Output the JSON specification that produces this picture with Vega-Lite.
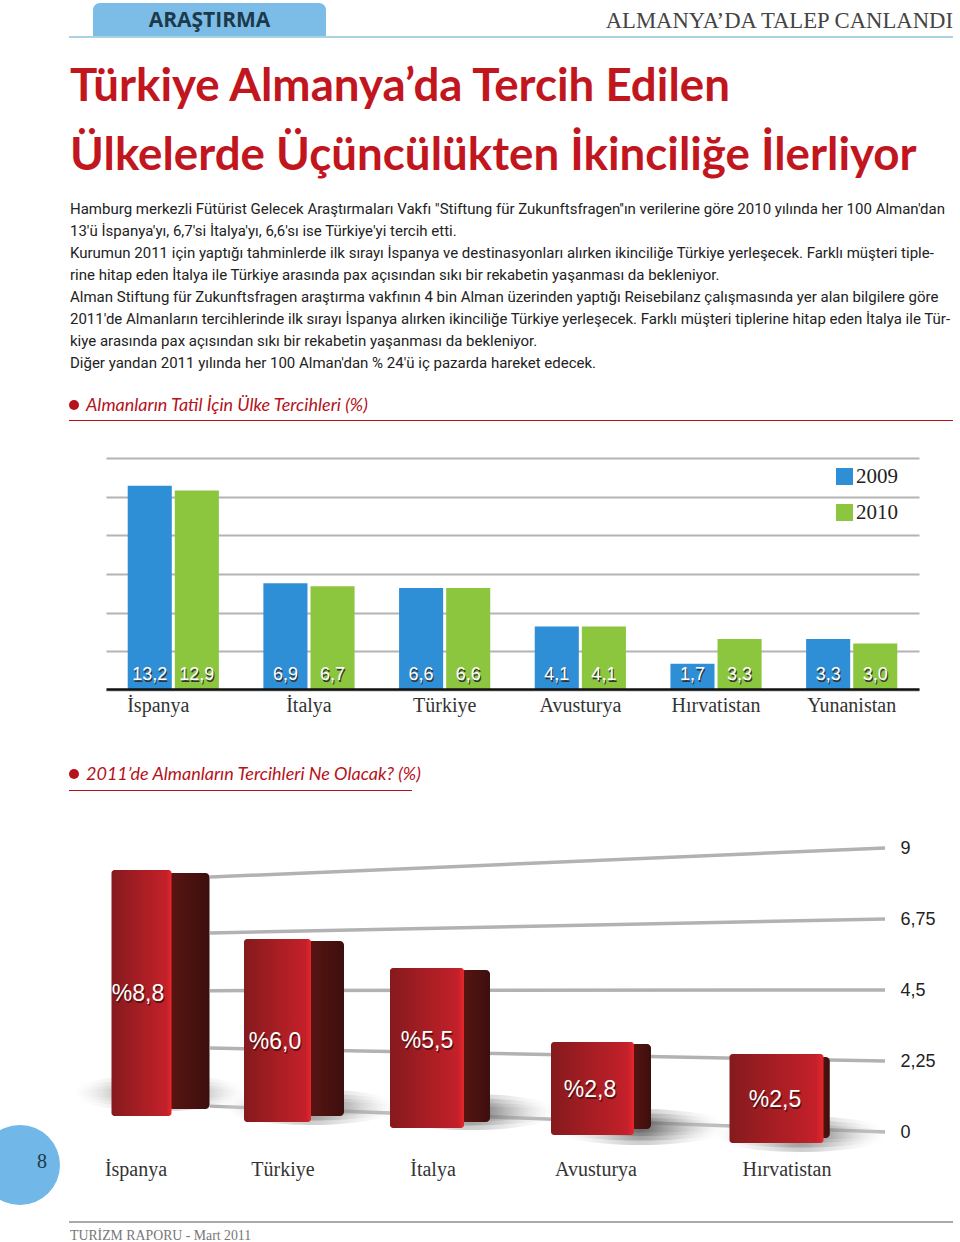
{
"$schema":"https://vega.github.io/schema/vega-lite/v6.json",
"width":960,"height":1242,"padding":0,
"autosize":{"type":"fit","contains":"padding"},
"background":"white",
"config":{"view":{"stroke":null}},
"datasets":{
"visits":[
{"country":"İspanya","year":"2009","value":13.2,"label":"13,2"},
{"country":"İspanya","year":"2010","value":12.9,"label":"12,9"},
{"country":"İtalya","year":"2009","value":6.9,"label":"6,9"},
{"country":"İtalya","year":"2010","value":6.7,"label":"6,7"},
{"country":"Türkiye","year":"2009","value":6.6,"label":"6,6"},
{"country":"Türkiye","year":"2010","value":6.6,"label":"6,6"},
{"country":"Avusturya","year":"2009","value":4.1,"label":"4,1"},
{"country":"Avusturya","year":"2010","value":4.1,"label":"4,1"},
{"country":"Hırvatistan","year":"2009","value":1.7,"label":"1,7"},
{"country":"Hırvatistan","year":"2010","value":3.3,"label":"3,3"},
{"country":"Yunanistan","year":"2009","value":3.3,"label":"3,3"},
{"country":"Yunanistan","year":"2010","value":3.0,"label":"3,0"}],
"forecast":[
{"rank":1,"country":"İspanya","value":8.8,"floor":0.51,"label":"%8,8"},
{"rank":2,"country":"Türkiye","value":6.0,"floor":0.32,"label":"%6,0"},
{"rank":3,"country":"İtalya","value":5.5,"floor":0.13,"label":"%5,5"},
{"rank":4,"country":"Avusturya","value":2.8,"floor":-0.10,"label":"%2,8"},
{"rank":5,"country":"Hırvatistan","value":2.5,"floor":-0.35,"label":"%2,5"}],
"perspectiveGrid":[
{"gridValue":9,"side":"back","reading":8.08},{"gridValue":9,"side":"front","reading":9},
{"gridValue":6.75,"side":"back","reading":6.31},{"gridValue":6.75,"side":"front","reading":6.75},
{"gridValue":4.5,"side":"back","reading":4.48},{"gridValue":4.5,"side":"front","reading":4.5},
{"gridValue":2.25,"side":"back","reading":2.66},{"gridValue":2.25,"side":"front","reading":2.25},
{"gridValue":0,"side":"back","reading":0.82},{"gridValue":0,"side":"front","reading":0}],
"body":[
{"line":1,"text":"Hamburg merkezli Fütürist Gelecek Araştırmaları Vakfı \"Stiftung für Zukunftsfragen''ın verilerine göre 2010 yılında her 100 Alman'dan"},
{"line":2,"text":"13'ü İspanya'yı, 6,7'si İtalya'yı, 6,6'sı ise Türkiye'yi tercih etti."},
{"line":3,"text":"Kurumun 2011 için yaptığı tahminlerde ilk sırayı İspanya ve destinasyonları alırken ikinciliğe Türkiye yerleşecek. Farklı müşteri tiple-"},
{"line":4,"text":"rine hitap eden İtalya ile Türkiye arasında pax açısından sıkı bir rekabetin yaşanması da bekleniyor."},
{"line":5,"text":"Alman Stiftung für Zukunftsfragen araştırma vakfının 4 bin Alman üzerinden yaptığı Reisebilanz çalışmasında yer alan bilgilere göre"},
{"line":6,"text":"2011'de Almanların tercihlerinde ilk sırayı İspanya alırken ikinciliğe Türkiye yerleşecek. Farklı müşteri tiplerine hitap eden İtalya ile Tür-"},
{"line":7,"text":"kiye arasında pax açısından sıkı bir rekabetin yaşanması da bekleniyor."},
{"line":8,"text":"Diğer yandan 2011 yılında her 100 Alman'dan % 24'ü iç pazarda hareket edecek."}],
"headline":[
{"line":1,"text":"Türkiye Almanya’da Tercih Edilen"},
{"line":2,"text":"Ülkelerde Üçüncülükten İkinciliğe İlerliyor"}],
"sections":[
{"order":1,"text":"Almanların Tatil İçin Ülke Tercihleri (%)"},
{"order":2,"text":"2011’de Almanların Tercihleri Ne Olacak? (%)"}]
},
"resolve":{"scale":{"x":"independent","y":"independent","color":"independent","size":"independent"},"axis":{"x":"independent","y":"independent"}},
"layer":[
{"data":{"values":[{"name":"ARAŞTIRMA"}]},
 "encoding":{
  "x":{"field":"name","type":"nominal","axis":null,"scale":{"type":"band","range":[93,326],"padding":0}},
  "y":{"field":"name","type":"nominal","axis":null,"scale":{"type":"band","range":[3,37],"padding":0}}},
 "layer":[
  {"mark":{"type":"bar","color":"#7cbde8","cornerRadiusTopLeft":7,"cornerRadiusTopRight":7}},
  {"mark":{"type":"text","font":"Open Sans","fontWeight":"bold","fontSize":21,"color":"#1d3a4a","dy":1},"encoding":{"text":{"field":"name"}}}
 ]},
{"data":{"values":[{"name":"header"}]},"mark":{"type":"rect","color":"#a9d3e3"},
 "encoding":{"x":{"field":"name","type":"nominal","axis":null,"scale":{"type":"band","range":[69,953],"padding":0}},
  "y":{"field":"name","type":"nominal","axis":null,"scale":{"type":"band","range":[36,38],"padding":0}}}},
{"data":{"values":[{"text":"ALMANYA’DA TALEP CANLANDI"}]},"mark":{"type":"text","font":"Liberation Serif","fontSize":22.7,"align":"right","baseline":"middle","color":"#444444"},
 "encoding":{"text":{"field":"text"},
  "x":{"field":"text","type":"nominal","axis":null,"scale":{"type":"point","range":[953,953],"padding":0}},
  "y":{"field":"text","type":"nominal","axis":null,"scale":{"type":"point","range":[21,21],"padding":0}}}},
{"data":{"name":"headline"},"mark":{"type":"text","font":"Lato","fontWeight":"bold","fontSize":45.7,"align":"left","baseline":"middle","color":"#c2161f"},
 "encoding":{"text":{"field":"text"},
  "x":{"field":"line","type":"quantitative","axis":null,"scale":{"domain":[1,2],"range":[70,70]}},
  "y":{"field":"line","type":"quantitative","axis":null,"scale":{"domain":[1,2],"range":[87,156]}}}},
{"data":{"name":"body"},"mark":{"type":"text","font":"Roboto","fontSize":15,"align":"left","baseline":"middle","color":"#222222"},
 "encoding":{"text":{"field":"text"},
  "x":{"field":"line","type":"quantitative","axis":null,"scale":{"domain":[1,8],"range":[70,70]}},
  "y":{"field":"line","type":"quantitative","axis":null,"scale":{"domain":[1,8],"range":[209,363]}}}},
{"data":{"name":"sections"},"mark":{"type":"text","font":"Lato","fontStyle":"italic","fontSize":18,"align":"left","baseline":"middle","color":"#b5121b"},
 "encoding":{"text":{"field":"text"},
  "x":{"field":"order","type":"quantitative","axis":null,"scale":{"domain":[1,2],"range":[86,86]}},
  "y":{"field":"order","type":"quantitative","axis":null,"scale":{"domain":[1,2],"range":[406,775]}}}},
{"data":{"name":"sections"},"mark":{"type":"circle","color":"#b5121b","opacity":1,"size":100},
 "encoding":{
  "x":{"field":"order","type":"quantitative","axis":null,"scale":{"domain":[1,2],"range":[74,74]}},
  "y":{"field":"order","type":"quantitative","axis":null,"scale":{"domain":[1,2],"range":[405,774]}}}},
{"data":{"values":[{"name":"section1"}]},"mark":{"type":"rect","color":"#b5121b"},
 "encoding":{"x":{"field":"name","type":"nominal","axis":null,"scale":{"type":"band","range":[69,953],"padding":0}},
  "y":{"field":"name","type":"nominal","axis":null,"scale":{"type":"band","range":[420,421],"padding":0}}}},
{"data":{"values":[{"name":"section2"}]},"mark":{"type":"rect","color":"#b5121b"},
 "encoding":{"x":{"field":"name","type":"nominal","axis":null,"scale":{"type":"band","range":[69,412],"padding":0}},
  "y":{"field":"name","type":"nominal","axis":null,"scale":{"type":"band","range":[790,791],"padding":0}}}},
{"data":{"name":"visits"},
 "encoding":{
  "x":{"field":"country","type":"nominal","sort":null,
   "scale":{"type":"band","domain":["İspanya","İtalya","Türkiye","Avusturya","Hırvatistan","Yunanistan"],"range":[106,919],"paddingInner":0.328,"paddingOuter":0.16},
   "axis":{"orient":"bottom","offset":-552,"title":null,"ticks":false,"labelAngle":0,"labelFont":"Liberation Serif","labelFontSize":20,"labelColor":"#333333","labelPadding":6,"domainColor":"#111111","domainWidth":2.5,"zindex":1,
    "labelOffset":{"expr":"datum.value==='İspanya'?-15:0"}}},
  "xOffset":{"field":"year","type":"nominal","scale":{"paddingInner":0.064}},
  "y":{"field":"value","type":"quantitative","scale":{"domain":[0,15],"range":[690,458]},
   "axis":{"orient":"left","title":null,"values":[0,2.5,5,7.5,10,12.5,15],"labels":false,"ticks":false,"domain":false,"grid":true,"gridColor":"#b4b4b4","gridWidth":2,"zindex":0}}},
 "layer":[
  {"mark":{"type":"bar"},
   "encoding":{"color":{"field":"year","type":"nominal","scale":{"domain":["2009","2010"],"range":["#2f8fd6","#8cc63f"]},
    "legend":{"orient":"none","legendX":834,"legendY":466,"title":null,"direction":"vertical","symbolType":"square","symbolSize":289,"symbolStrokeWidth":0,"symbolOpacity":1,"labelFont":"Liberation Serif","labelFontSize":21,"labelColor":"#222222","labelOffset":1,"rowPadding":14,"labelLimit":100}}}},
  {"mark":{"type":"text","font":"Liberation Sans","fontSize":18,"color":"#333333","dx":1,"dy":2},
   "encoding":{"text":{"field":"label"},"y":{"datum":1.0}}},
  {"mark":{"type":"text","font":"Liberation Sans","fontSize":18,"color":"#ffffff"},
   "encoding":{"text":{"field":"label"},"y":{"datum":1.0}}}
 ]},
{"data":{"name":"perspectiveGrid"},"mark":{"type":"line","color":"#b2b2b2","strokeWidth":3.5},
 "encoding":{
  "x":{"field":"side","type":"nominal","sort":null,"axis":null,"scale":{"type":"point","domain":["back","front"],"range":[210,885],"padding":0}},
  "y":{"field":"reading","type":"quantitative","scale":{"domain":[0,9],"range":[1132,848]},
   "axis":{"orient":"right","offset":-60,"title":null,"values":[0,2.25,4.5,6.75,9],"grid":false,"domain":false,"ticks":false,"labelPadding":0,"labelFont":"Liberation Sans","labelFontSize":18,"labelColor":"#222222","labelAlign":"left","labelExpr":"replace(format(datum.value,'.2~f'),'.',',')"}},
  "detail":{"field":"gridValue"}}},
{"data":{"name":"forecast"},
 "encoding":{
  "x":{"field":"rank","type":"quantitative","axis":null,"scale":{"domain":[1,2,3,4,5],"range":[160,310,470,640,800]}},
  "y":{"field":"rank","type":"quantitative","axis":null,"scale":{"domain":[1,2,3,4,5],"range":[1093,1107,1112,1127,1134]}}},
 "layer":[
  {"mark":{"type":"point","filled":true,"opacity":0.45,"strokeWidth":0,"size":32400,"shape":"M-1,0A1,0.2 0 1,1 1,0A1,0.2 0 1,1 -1,0Z",
   "fill":{"gradient":"radial","x1":0.5,"y1":0.5,"r1":0,"x2":0.5,"y2":0.5,"r2":0.5,"stops":[{"offset":0,"color":"rgba(80,80,80,0.9)"},{"offset":1,"color":"rgba(255,255,255,0)"}]}}},
  {"mark":{"type":"point","filled":true,"opacity":0.45,"strokeWidth":0,"size":32400,"shape":"M-1,0A1,0.15 0 1,1 1,0A1,0.15 0 1,1 -1,0Z",
   "fill":{"gradient":"radial","x1":0.5,"y1":0.5,"r1":0,"x2":0.5,"y2":0.5,"r2":0.5,"stops":[{"offset":0,"color":"rgba(80,80,80,0.9)"},{"offset":1,"color":"rgba(255,255,255,0)"}]}}},
  {"mark":{"type":"point","filled":true,"opacity":0.45,"strokeWidth":0,"size":32400,"shape":"M-1,0A1,0.1 0 1,1 1,0A1,0.1 0 1,1 -1,0Z",
   "fill":{"gradient":"radial","x1":0.5,"y1":0.5,"r1":0,"x2":0.5,"y2":0.5,"r2":0.5,"stops":[{"offset":0,"color":"rgba(80,80,80,0.9)"},{"offset":1,"color":"rgba(255,255,255,0)"}]}}},
  {"mark":{"type":"point","filled":true,"opacity":0.45,"strokeWidth":0,"size":32400,"shape":"M-1,0A1,0.06 0 1,1 1,0A1,0.06 0 1,1 -1,0Z",
   "fill":{"gradient":"radial","x1":0.5,"y1":0.5,"r1":0,"x2":0.5,"y2":0.5,"r2":0.5,"stops":[{"offset":0,"color":"rgba(80,80,80,0.9)"},{"offset":1,"color":"rgba(255,255,255,0)"}]}}}
 ]},
{"data":{"name":"forecast"},"mark":{"type":"bar","cornerRadius":4,
  "fill":{"gradient":"linear","x1":0,"x2":1,"y1":0,"y2":0,"stops":[{"offset":0,"color":"#5a1512"},{"offset":1,"color":"#3c0f0e"}]}},
 "encoding":{
  "x":{"field":"rank","type":"quantitative","axis":null,"scale":{"domain":[1,2,3,4,5],"range":[189,326,475.5,641,825],"padding":0}},
  "size":{"field":"rank","type":"quantitative","legend":null,"scale":{"domain":[1,2,3,4,5],"range":[41,36,29,20,9.5]}},
  "y":{"field":"value","type":"quantitative","axis":null,"scale":{"domain":[-0.35,-0.10,0.13,0.32,0.51,2.5,2.8,5.5,6,8.8],"range":[1138,1129,1122,1116,1109,1057,1044,970,941,873]}},
  "y2":{"field":"floor"}}},
{"data":{"name":"forecast"},"encoding":{
  "x":{"field":"rank","type":"quantitative","axis":null,"scale":{"domain":[1,2,3,4,5],"range":[141.5,277.5,427,592.5,776.5],"padding":0}},
  "size":{"field":"rank","type":"quantitative","legend":null,"scale":{"domain":[1,2,3,4,5],"range":[60,67,74,83,94]}},
  "y":{"field":"value","type":"quantitative","axis":null,"scale":{"domain":[-0.35,-0.10,0.13,0.32,0.51,2.5,2.8,5.5,6,8.8],"range":[1143,1135,1128,1122,1116,1054,1042,968,939,870]}},
  "y2":{"field":"floor"}},
 "mark":{"type":"bar","cornerRadius":3,
  "fill":{"gradient":"linear","x1":0,"x2":1,"y1":0,"y2":0,"stops":[{"offset":0,"color":"#851a1d"},{"offset":0.55,"color":"#ab1e24"},{"offset":0.92,"color":"#c4202a"},{"offset":1,"color":"#e8262b"}]}}},
{"data":{"name":"forecast"},"mark":{"type":"text","font":"Liberation Sans","fontSize":23,"color":"#5a1010","dx":1,"dy":1.5},
 "encoding":{"text":{"field":"label"},
  "x":{"field":"rank","type":"quantitative","axis":null,"scale":{"domain":[1,2,3,4,5],"range":[138,275,427,590,775]}},
  "y":{"field":"rank","type":"quantitative","axis":null,"scale":{"domain":[1,2,3,4,5],"range":[994,1042,1041,1090,1100]}}}},
{"data":{"name":"forecast"},"mark":{"type":"text","font":"Liberation Sans","fontSize":23,"color":"#ffffff"},
 "encoding":{"text":{"field":"label"},
  "x":{"field":"rank","type":"quantitative","axis":null,"scale":{"domain":[1,2,3,4,5],"range":[138,275,427,590,775]}},
  "y":{"field":"rank","type":"quantitative","axis":null,"scale":{"domain":[1,2,3,4,5],"range":[994,1042,1041,1090,1100]}}}},
{"data":{"name":"forecast"},"mark":{"type":"text","font":"Liberation Serif","fontSize":20,"color":"#333333"},
 "encoding":{"text":{"field":"country"},
  "x":{"field":"rank","type":"quantitative","axis":null,"scale":{"domain":[1,2,3,4,5],"range":[136,283,433,596,787]}},
  "y":{"field":"rank","type":"quantitative","axis":null,"scale":{"domain":[1,5],"range":[1170,1170]}}}},
{"data":{"values":[{"page":"8"}]},"mark":{"type":"circle","color":"#71b7e8","opacity":1,"size":6400,"clip":true},
 "encoding":{
  "x":{"field":"page","type":"nominal","axis":null,"scale":{"type":"point","range":[20,20],"padding":0}},
  "y":{"field":"page","type":"nominal","axis":null,"scale":{"type":"point","range":[1165,1165],"padding":0}}}},
{"data":{"values":[{"page":"8"}]},"mark":{"type":"text","font":"Liberation Serif","fontSize":20,"color":"#1d3a4a"},
 "encoding":{"text":{"field":"page"},
  "x":{"field":"page","type":"nominal","axis":null,"scale":{"type":"point","range":[42,42],"padding":0}},
  "y":{"field":"page","type":"nominal","axis":null,"scale":{"type":"point","range":[1162,1162],"padding":0}}}},
{"data":{"values":[{"name":"footer"}]},"mark":{"type":"rect","color":"#aaaaaa"},
 "encoding":{"x":{"field":"name","type":"nominal","axis":null,"scale":{"type":"band","range":[69,953],"padding":0}},
  "y":{"field":"name","type":"nominal","axis":null,"scale":{"type":"band","range":[1221,1223],"padding":0}}}},
{"data":{"values":[{"text":"TURİZM RAPORU - Mart 2011"}]},"mark":{"type":"text","font":"Liberation Serif","fontSize":13.8,"align":"left","baseline":"middle","color":"#777777"},
 "encoding":{"text":{"field":"text"},
  "x":{"field":"text","type":"nominal","axis":null,"scale":{"type":"point","range":[70,70],"padding":0}},
  "y":{"field":"text","type":"nominal","axis":null,"scale":{"type":"point","range":[1236,1236],"padding":0}}}}
]
}
